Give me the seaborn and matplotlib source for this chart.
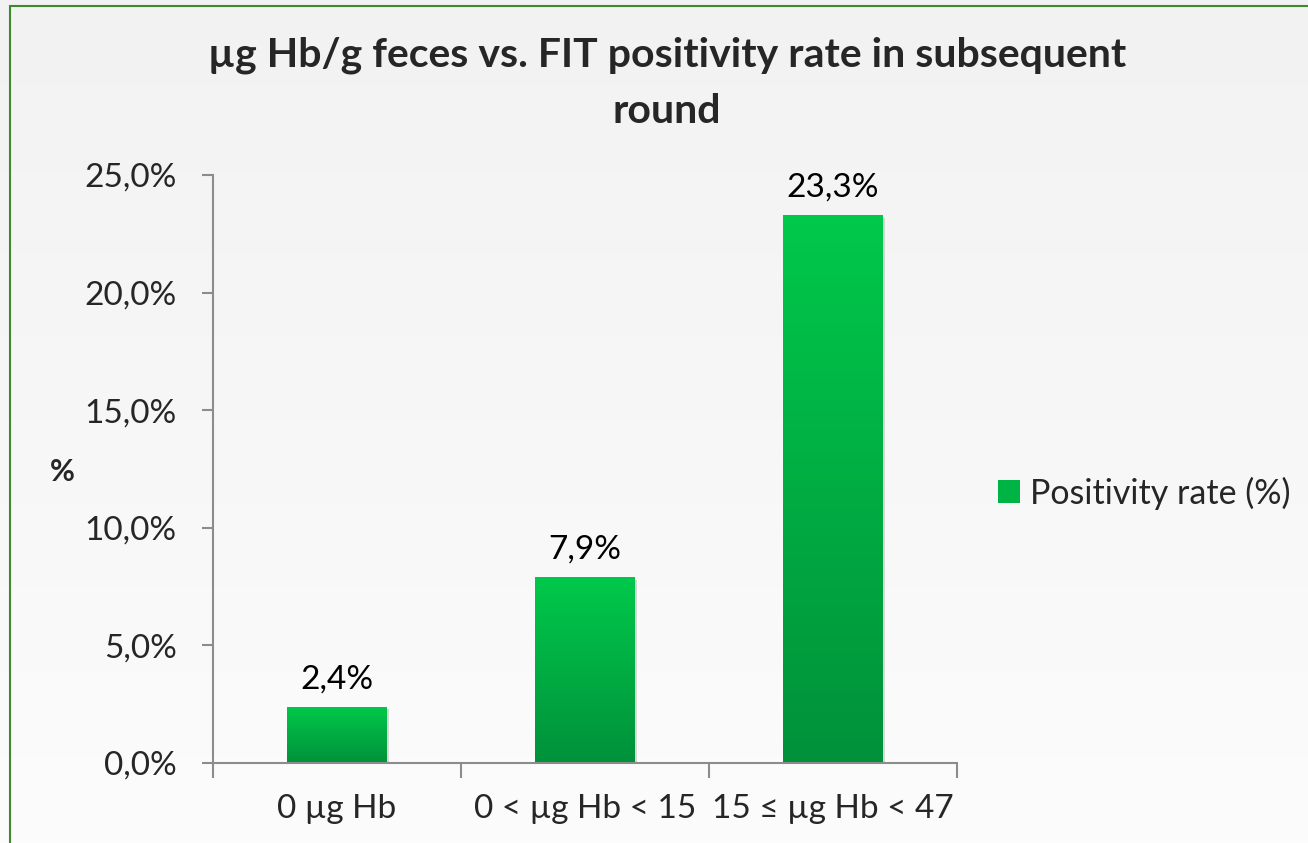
import numpy as np
import matplotlib
matplotlib.use("Agg")
import matplotlib.pyplot as plt
import matplotlib.patheffects as pe
from matplotlib.colors import LinearSegmentedColormap
from matplotlib.patches import Patch, Rectangle
from matplotlib.ticker import FuncFormatter, FixedLocator
import seaborn as sns

# data
categories = ["0 µg Hb", "0 < µg Hb < 15", "15 ≤ µg Hb < 47"]
positivity = [2.4, 7.9, 23.3]
series_name = "Positivity rate (%)"
title = "µg Hb/g feces vs. FIT positivity rate in subsequent\nround"

sns.set_theme(style="white")
plt.rcParams['font.family'] = ['Lato', 'DejaVu Sans']

fs = 24
green_dark = "#00913a"
green_light = "#00c94b"
grey = "#8c8c8c"

fig = plt.figure(figsize=(13.08, 8.43), dpi=100)

# light grey background gradient
bg = fig.add_axes([0, 0, 1, 1], zorder=-10)
bg.imshow(np.linspace(0, 1, 256).reshape(-1, 1), aspect='auto',
          cmap=LinearSegmentedColormap.from_list("bg", ["#f2f2f2", "#fcfcfc"]),
          extent=[0, 1, 0, 1])
bg.set_axis_off()

# green border (only left and top visible)
fig.patches.append(Rectangle((10 / 1308, -0.2), 2.0, 1.2 - 6 / 843,
                             transform=fig.transFigure, fill=False,
                             edgecolor="#3f8a2c", linewidth=1.5))

ax = fig.add_axes([213 / 1308, 1 - 763 / 843, (957 - 213) / 1308, (763 - 175) / 843])
ax.set_facecolor("none")

sns.barplot(x=categories, y=positivity, ax=ax, width=0.4, color=green_light,
            saturation=1, linewidth=0)

cmap = LinearSegmentedColormap.from_list("bar", [green_dark, green_light])
grad = np.linspace(1, 0, 256).reshape(-1, 1)
for p in ax.patches:
    x0, w, h = p.get_x(), p.get_width(), p.get_height()
    p.set_path_effects([pe.SimplePatchShadow(offset=(2, -2), shadow_rgbFace="#999999", alpha=0.35),
                        pe.Normal()])
    im = ax.imshow(grad, extent=[x0, x0 + w, 0, h], aspect='auto', cmap=cmap,
                   zorder=p.get_zorder() + 0.1)
    im.set_clip_path(p)
    ax.annotate(f"{h:.1f}%".replace(".", ","), (x0 + w / 2, h),
                xytext=(0, 9), textcoords="offset points",
                ha="center", va="bottom", fontsize=fs, color="black")

ax.set_xlim(-0.5, 2.5)
ax.set_ylim(0, 25)
ax.set_yticks(np.arange(0, 25.1, 5))
ax.yaxis.set_major_formatter(FuncFormatter(lambda v, _: f"{v:.1f}%".replace(".", ",")))

ax.xaxis.set_minor_locator(FixedLocator([-0.5, 0.5, 1.5, 2.5]))
ax.tick_params(axis="x", which="major", direction="in", length=7, width=1.5,
               color=grey, pad=22, labelsize=fs, bottom=True)
ax.tick_params(axis="x", which="minor", direction="out", length=11, width=1.5,
               color=grey, bottom=True)
ax.tick_params(axis="y", direction="out", length=8, width=1.5, color=grey,
               pad=18, labelsize=fs, left=True)

sns.despine(ax=ax)
for s in ("left", "bottom"):
    ax.spines[s].set_color(grey)
    ax.spines[s].set_linewidth(1.5)
ax.set_xlabel("")
ax.set_ylabel("")

fig.text(62 / 1308, 1 - 472 / 843, "%", fontsize=fs - 2, fontweight="bold",
         ha="center", va="center")
fig.text(667 / 1308, 1 - 83 / 843, title, fontsize=29.5, fontweight="bold",
         ha="center", va="center", linespacing=1.65)

ax.legend(handles=[Patch(facecolor="#00b345", edgecolor="none", label=series_name)],
          loc="center left", bbox_to_anchor=(998 / 1308, 1 - 493 / 843),
          bbox_transform=fig.transFigure, frameon=False, fontsize=fs + 0.5,
          handlelength=0.65, handleheight=0.65, handletextpad=0.3,
          borderpad=0, borderaxespad=0)

fig.savefig("out.png", dpi=100)
